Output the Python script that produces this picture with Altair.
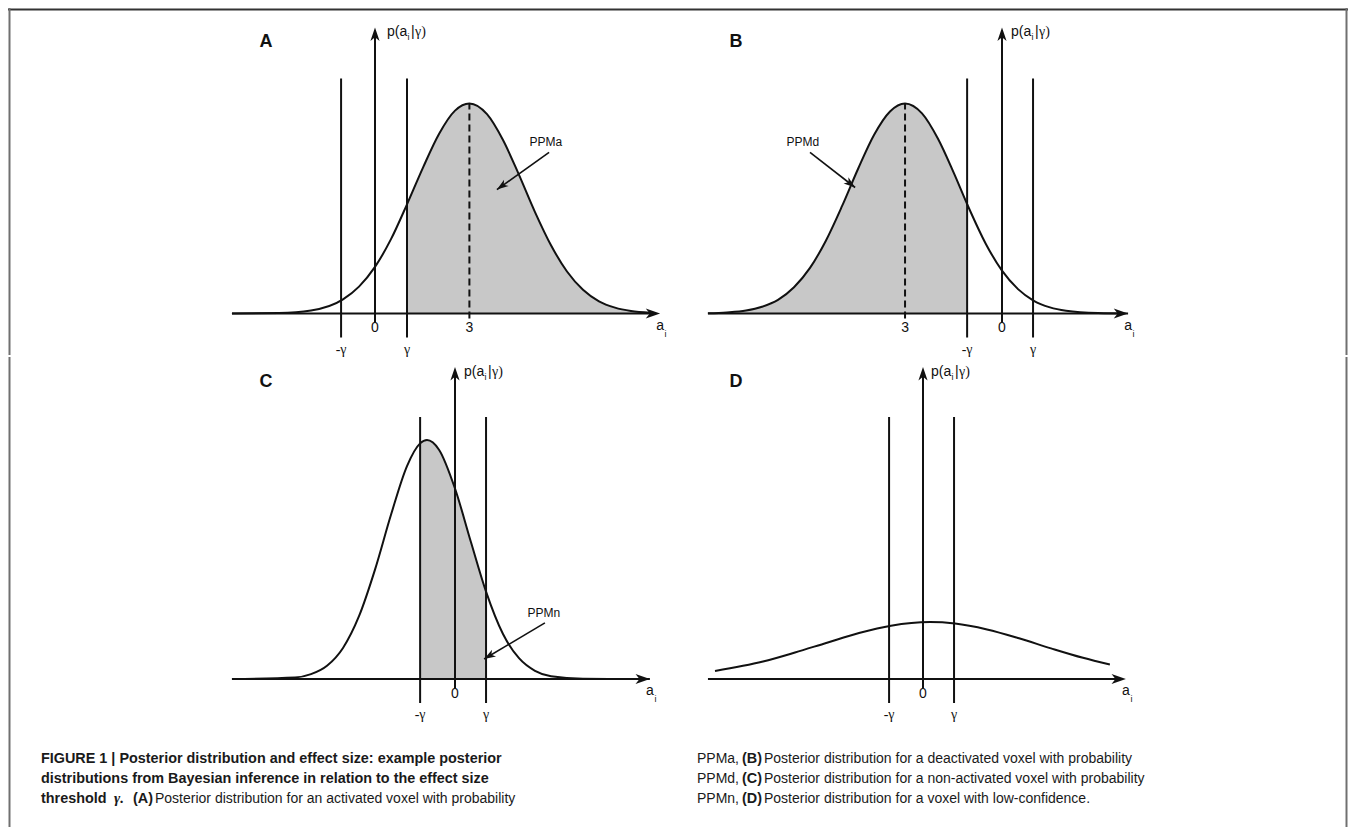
import math
import altair as alt
import pandas as pd

# ---------------- values ----------------
# x: effect size a_i (axis units), y: relative posterior density p(a_i|gamma)
a_curve_x = [-4.47, -3, -2, -1, -0.5, 0, 0.5, 1.0, 1.5, 2, 2.5, 2.95, 3.5, 4, 4.5, 5, 5.5, 6, 6.5, 7, 7.5, 8, 8.6]
a_curve_y = [0.0, 0.002, 0.014, 0.067, 0.128, 0.222, 0.354, 0.52, 0.695, 0.855, 0.966, 1.0, 0.949, 0.826, 0.66, 0.483, 0.325, 0.2, 0.113, 0.058, 0.028, 0.012, 0.004]

b_curve_x = [-9.19, -8.6, -8, -7.5, -7, -6.5, -6, -5.5, -5, -4.5, -4, -3.5, -3.03, -2.5, -2, -1.5, -1.09, -0.5, 0, 0.5, 0.97, 1.5, 2, 3, 3.94]
b_curve_y = [0.001, 0.005, 0.014, 0.032, 0.065, 0.125, 0.217, 0.348, 0.511, 0.688, 0.85, 0.962, 1.0, 0.953, 0.832, 0.667, 0.521, 0.33, 0.204, 0.116, 0.063, 0.029, 0.013, 0.002, 0.0]

c_curve_x = [-6.97, -5, -4.5, -4, -3.5, -3, -2.5, -2, -1.5, -1.09, -0.875, -0.5, 0, 0.5, 0.97, 1.5, 2, 2.5, 3, 4, 6.09]
c_curve_y = [0.0, 0.007, 0.023, 0.063, 0.148, 0.299, 0.521, 0.782, 1.014, 1.122, 1.138, 1.092, 0.907, 0.651, 0.416, 0.214, 0.099, 0.039, 0.013, 0.001, 0.0]

d_curve_x = [-6.5, -5, -4, -3, -2, -1, 0.22, 1, 2, 3, 4, 5, 5.84]
d_curve_y = [0.038, 0.083, 0.126, 0.173, 0.219, 0.254, 0.271, 0.264, 0.236, 0.194, 0.146, 0.101, 0.069]

# threshold lines (-gamma, gamma) per panel
a_thresholds = [-1.06, 1.0]
b_thresholds = [-1.09, 0.97]
c_thresholds = [-1.09, 0.97]
d_thresholds = [-1.06, 0.97]
threshold_labels = ["-\u03b3", "\u03b3"]

# posterior means (dashed lines) and their tick label
a_mean = 2.95
b_mean = -3.03
mean_label = "3"

# shaded probability regions [lo, hi]
a_shade = [1.0, 99]
b_shade = [-99, -1.09]
c_shade = [-1.09, 0.97]

# axis extents
top_axis_x = {"A": [-4.47, 8.91], "B": [-9.19, 3.94], "C": [-6.97, 6.09], "D": [-6.72, 6.34]}
y_axis_top = {"A": 1.362, "B": 1.362, "C": 1.486, "D": 1.486}
threshold_top = {"A": 1.119, "B": 1.119, "C": 1.248, "D": 1.248}
threshold_bottom = -0.114

# annotations: label, label position, arrow start, arrow tip
a_note = {"t": "PPMa", "tx": 5.34, "ty": 0.819, "x0": 5.44, "y0": 0.767, "x1": 3.81, "y1": 0.59}
b_note = {"t": "PPMd", "tx": -6.22, "ty": 0.819, "x0": -6.0, "y0": 0.767, "x1": -4.59, "y1": 0.60}
c_note = {"t": "PPMn", "tx": 2.78, "ty": 0.314, "x0": 2.81, "y0": 0.267, "x1": 0.91, "y1": 0.095}

y_label_parts = ["p(a", "i", "|", "\u03b3)"]
x_label_parts = ["a", "i"]
zero_label = "0"
panel_letters = ["A", "B", "C", "D"]

caption_bold = [
    "FIGURE 1 | Posterior distribution and effect size: example posterior",
    "distributions from Bayesian inference in relation to the effect size",
    "threshold",
    "(A)",
    "(B)", "(C)", "(D)",
]
caption_gamma = ["\u03b3."]
caption_regular = [
    "Posterior distribution for an activated voxel with probability",
    "PPMa,", "Posterior distribution for a deactivated voxel with probability",
    "PPMd,", "Posterior distribution for a non-activated voxel with probability",
    "PPMn,", "Posterior distribution for a voxel with low-confidence.",
]

# ---------------- layout / style ----------------
FONT = "Liberation Sans, Arial, Helvetica, sans-serif"
SERIF = "Liberation Serif, DejaVu Serif, serif"
CAP_FONT = "Liberation Sans Narrow, Arial Narrow, Liberation Sans, sans-serif"
INK = "#111111"
SHADE = "#c8c8c8"
PX_X = 32.0
PX_Y = 210.0
W_LEFT, W_RIGHT = 676, 664
H_TOP, H_BOT, H_CAP = 347, 370, 100
ARROW_UP = "M0,0 L0.75,2.2 L0,1.6 L-0.75,2.2 Z"


def frame_layers(width, height, sides):
    """Figure border drawn as thin filled bands (exact bounds, no stroke overhang)."""
    out = []
    for s in sides:
        if s == "top":
            enc = dict(x=alt.value(0), x2=alt.value(width), y=alt.value(0.5), y2=alt.value(2.5))
            col = "#333333"
        elif s == "left":
            enc = dict(x=alt.value(0.5), x2=alt.value(2.5), y=alt.value(0), y2=alt.value(height))
            col = "#707070"
        else:
            enc = dict(x=alt.value(width - 2.5), x2=alt.value(width - 0.5), y=alt.value(0), y2=alt.value(height))
            col = "#707070"
        out.append(alt.Chart(pd.DataFrame({"side": [s]})).mark_rect(color=col, strokeWidth=0)
                   .encode(**enc))
    return out


def panel(key, cx, cy, thresholds, width, height, x_origin, y_base, shade=None,
          mean=None, note=None, letter_pos=(0, 0), ylab_dx=9, sides=()):
    xs = alt.Scale(domain=[-x_origin / PX_X, (width - x_origin) / PX_X], nice=False, zero=False)
    ys = alt.Scale(domain=[-(height - y_base) / PX_Y, y_base / PX_Y], nice=False, zero=False)

    def X(f):
        return alt.X(f, type="quantitative", scale=xs, axis=None)

    def Y(f):
        return alt.Y(f, type="quantitative", scale=ys, axis=None)

    curve = pd.DataFrame({"x": cx, "y": cy, "base": [0.0] * len(cx)})
    layers = []
    if shade is not None:
        lo, hi = shade
        layers.append(
            alt.Chart(curve).transform_filter(f"datum.x >= {lo} && datum.x <= {hi}")
            .mark_area(color=SHADE, interpolate="monotone")
            .encode(x=X("x"), y=Y("y"), y2=alt.Y2("base"))
        )
    # x axis
    xa = top_axis_x[key]
    layers.append(alt.Chart(pd.DataFrame({"x": [xa[0]], "x2": [xa[1] - 0.2], "y": [0.0]}))
                  .mark_rule(color=INK, strokeWidth=2)
                  .encode(x=X("x"), x2=alt.X2("x2"), y=Y("y")))
    layers.append(alt.Chart(pd.DataFrame({"x": [xa[1]], "y": [0.0]}))
                  .mark_point(shape=ARROW_UP, filled=True, size=170, color=INK, opacity=1, angle=90, strokeWidth=0)
                  .encode(x=X("x"), y=Y("y")))
    # y axis
    layers.append(alt.Chart(pd.DataFrame({"x": [0.0], "y": [-0.043], "y2": [y_axis_top[key] - 0.03]}))
                  .mark_rule(color=INK, strokeWidth=2)
                  .encode(x=X("x"), y=Y("y"), y2=alt.Y2("y2")))
    layers.append(alt.Chart(pd.DataFrame({"x": [0.0], "y": [y_axis_top[key]]}))
                  .mark_point(shape=ARROW_UP, filled=True, size=150, color=INK, opacity=1, strokeWidth=0)
                  .encode(x=X("x"), y=Y("y")))
    # thresholds
    thr = pd.DataFrame({"x": thresholds, "y": [threshold_bottom] * 2, "y2": [threshold_top[key]] * 2,
                        "t": threshold_labels, "ly": [-0.167] * 2})
    layers.append(alt.Chart(thr).mark_rule(color=INK, strokeWidth=2)
                  .encode(x=X("x"), y=Y("y"), y2=alt.Y2("y2")))
    # mean dashed line
    ticks = [{"x": 0.0, "y": -0.071, "t": zero_label}]
    if mean is not None:
        peak = max(cy)
        layers.append(alt.Chart(pd.DataFrame({"x": [mean], "y": [-0.024], "y2": [peak]}))
                      .mark_rule(color=INK, strokeWidth=2, strokeDash=[7, 4])
                      .encode(x=X("x"), y=Y("y"), y2=alt.Y2("y2")))
        ticks.append({"x": mean, "y": -0.071, "t": mean_label})
    # curve
    layers.append(alt.Chart(curve).mark_line(color=INK, strokeWidth=2, interpolate="monotone")
                  .encode(x=X("x"), y=Y("y")))
    # tick labels
    layers.append(alt.Chart(pd.DataFrame(ticks)).mark_text(font=FONT, fontSize=14, color=INK, baseline="middle")
                  .encode(x=X("x"), y=Y("y"), text="t:N"))
    layers.append(alt.Chart(thr).mark_text(font=SERIF, fontSize=14, color=INK, baseline="middle", dy=1)
                  .encode(x=X("x"), y=Y("ly"), text="t:N"))
    # x axis label a_i
    xl = pd.DataFrame({"x": [xa[1]], "y": [0.0], "t": [x_label_parts[0]], "s": [x_label_parts[1]]})
    layers.append(alt.Chart(xl).mark_text(font=FONT, fontSize=14, color=INK, baseline="middle", dx=0, dy=12)
                  .encode(x=X("x"), y=Y("y"), text="t:N"))
    layers.append(alt.Chart(xl).mark_text(font=FONT, fontSize=9, color=INK, baseline="middle", dx=5.5, dy=20)
                  .encode(x=X("x"), y=Y("y"), text="s:N"))
    # y axis label p(a_i|gamma)
    yl = pd.DataFrame({"x": [0.0], "y": [y_axis_top[key]], "a": [y_label_parts[0]],
                       "b": [y_label_parts[1]], "c": [y_label_parts[2]], "d": [y_label_parts[3]]})
    layers.append(alt.Chart(yl).mark_text(font=FONT, fontSize=14, color=INK, align="left", baseline="middle",
                                          dx=ylab_dx, dy=5).encode(x=X("x"), y=Y("y"), text="a:N"))
    layers.append(alt.Chart(yl).mark_text(font=FONT, fontSize=9, color=INK, align="left", baseline="middle",
                                          dx=ylab_dx + 20.5, dy=10).encode(x=X("x"), y=Y("y"), text="b:N"))
    layers.append(alt.Chart(yl).mark_text(font=FONT, fontSize=14, color=INK, align="left", baseline="middle",
                                          dx=ylab_dx + 24, dy=5).encode(x=X("x"), y=Y("y"), text="c:N"))
    layers.append(alt.Chart(yl).mark_text(font=SERIF, fontSize=14, color=INK, align="left", baseline="middle",
                                          dx=ylab_dx + 28, dy=5).encode(x=X("x"), y=Y("y"), text="d:N"))
    # annotation arrow
    if note is not None:
        nd = pd.DataFrame([note])
        ddx = (note["x1"] - note["x0"]) * PX_X
        ddy = -(note["y1"] - note["y0"]) * PX_Y
        ang = math.degrees(math.atan2(ddx, -ddy)) % 360
        layers.append(alt.Chart(nd).mark_rule(color=INK, strokeWidth=1.6)
                      .encode(x=X("x0"), y=Y("y0"), x2=alt.X2("x1"), y2=alt.Y2("y1")))
        layers.append(alt.Chart(nd).mark_point(shape=ARROW_UP, filled=True, size=110, color=INK, opacity=1,
                                               strokeWidth=0, angle=ang)
                      .encode(x=X("x1"), y=Y("y1")))
        layers.append(alt.Chart(nd).mark_text(font=FONT, fontSize=12, color=INK, baseline="middle")
                      .encode(x=X("tx"), y=Y("ty"), text="t:N"))
    # panel letter
    layers.append(alt.Chart(pd.DataFrame({"t": [panel_letters["ABCD".index(key)]]}))
                  .mark_text(font=FONT, fontSize=18, fontWeight="bold", color=INK, baseline="middle")
                  .encode(x=alt.value(letter_pos[0]), y=alt.value(letter_pos[1]), text="t:N"))
    layers += frame_layers(width, height, sides)
    return alt.layer(*layers).properties(width=width, height=height)


pA = panel("A", a_curve_x, a_curve_y, a_thresholds, W_LEFT, H_TOP, 367, 305.5, shade=a_shade,
           mean=a_mean, note=a_note, letter_pos=(258, 34), ylab_dx=12, sides=("top", "left"))
pB = panel("B", b_curve_x, b_curve_y, b_thresholds, W_RIGHT, H_TOP, 318, 305.5, shade=b_shade,
           mean=b_mean, note=b_note, letter_pos=(52, 34), ylab_dx=9, sides=("top", "right"))
pC = panel("C", c_curve_x, c_curve_y, c_thresholds, W_LEFT, H_BOT, 447, 322, shade=c_shade,
           note=c_note, letter_pos=(258, 25), ylab_dx=9, sides=("left",))
pD = panel("D", d_curve_x, d_curve_y, d_thresholds, W_RIGHT, H_BOT, 239, 322,
           letter_pos=(52, 25), ylab_dx=8, sides=("right",))

# caption (pixel layout of the text blocks inside the caption strip)
bold_pos = [(33, 36), (33, 56), (33, 76), (125, 76), (734, 36), (734, 56), (734, 76)]
gamma_pos = [(106, 76)]
reg_pos = [(147, 76), (689, 36), (756, 36), (689, 56), (756, 56), (689, 76), (756, 76)]


def cap_df(texts, pos):
    return pd.DataFrame({"t": texts, "px": [p[0] for p in pos], "py": [p[1] for p in pos]})


def cap_enc():
    return dict(x=alt.X("px:Q", scale=None, axis=None), y=alt.Y("py:Q", scale=None, axis=None), text="t:N")


cap_layers = [
    alt.Chart(cap_df(caption_bold, bold_pos)).mark_text(font=CAP_FONT, fontSize=14.4, fontWeight="bold",
                                                        color="#1a1a1a", align="left", baseline="alphabetic")
    .encode(**cap_enc()),
    alt.Chart(cap_df(caption_gamma, gamma_pos)).mark_text(font=SERIF, fontSize=15, fontWeight="bold",
                                                          fontStyle="italic", color="#1a1a1a", align="left",
                                                          baseline="alphabetic")
    .encode(**cap_enc()),
    alt.Chart(cap_df(caption_regular, reg_pos)).mark_text(font=CAP_FONT, fontSize=14, color="#1a1a1a",
                                                          align="left", baseline="alphabetic")
    .encode(**cap_enc()),
]
cap_layers += frame_layers(W_LEFT + W_RIGHT, H_CAP, ("left", "right"))
caption = alt.layer(*cap_layers).properties(width=W_LEFT + W_RIGHT, height=H_CAP)

chart = (
    alt.vconcat(alt.hconcat(pA, pB, spacing=0),
                alt.hconcat(pC, pD, spacing=0),
                caption, spacing=0)
    .properties(padding=0, background="white")
    .configure_view(stroke=None)
)
chart.save("out.html", embed_options={"renderer": "svg", "actions": False})
